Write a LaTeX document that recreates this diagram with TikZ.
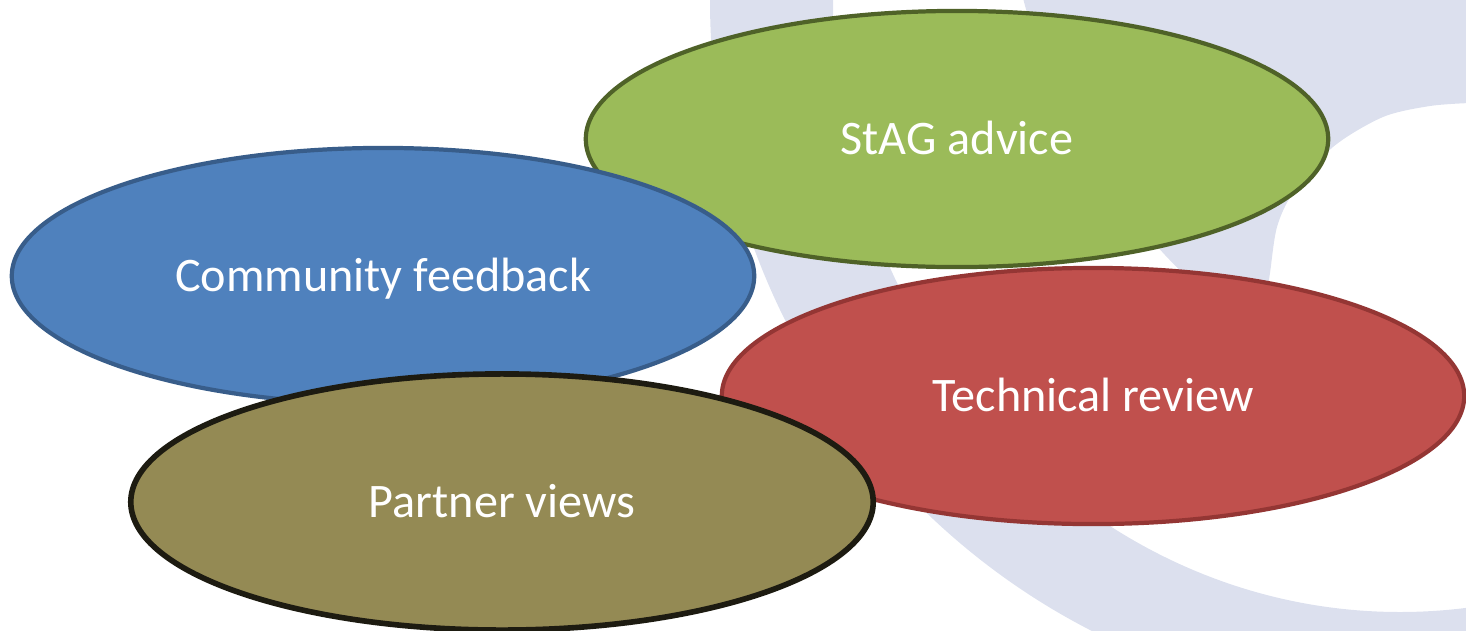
\documentclass[tikz,border=0pt]{standalone}
\usepackage{fontspec}
\setmainfont{Carlito}
\usetikzlibrary{shapes.geometric}
\definecolor{swooshgray}{RGB}{220,224,238}
\definecolor{feedblue}{RGB}{79,129,189}
\definecolor{feedblueline}{RGB}{56,93,138}
\definecolor{stagreen}{RGB}{155,187,89}
\definecolor{stagreenline}{RGB}{79,98,40}
\definecolor{techred}{RGB}{192,80,77}
\definecolor{techredline}{RGB}{148,54,52}
\definecolor{partnerolive}{RGB}{148,138,84}
\definecolor{partneroliveline}{RGB}{29,27,17}
\begin{document}
\begin{tikzpicture}[x = 0.01cm, y = -0.01cm,
		bubble/.style = {ellipse, minimum width = 7.42cm, minimum height = 2.56cm,
			inner sep = 0pt, line width = 1.2pt, text = white,
			font = \fontsize{13.7}{16}\selectfont, text height = 8.8pt, text depth = 0pt}]
	\useasboundingbox (0, 0) rectangle (1466, 630);
	% background swoosh
	\begin{scope}
		\clip (0, 0) rectangle (1466, 630);
		\fill[swooshgray, even odd rule] (1400, 0) ellipse [x radius = 690, y radius = 705]
			(1400, 0) ellipse [x radius = 567, y radius = 612];
		\fill[swooshgray] plot[smooth] coordinates {(1023, -2) (1048, 80) (1096, 170) (1165, 255) (1230, 315) (1268, 335)}
			-- plot[smooth] coordinates {(1266, 300) (1270, 273) (1277, 227) (1293, 193) (1333, 147) (1383, 117) (1430, 106) (1470, 103)}
			-- (1470, -2) -- cycle;
	\end{scope}
	% the four ellipses
	\node[bubble, draw = stagreenline, fill = stagreen]   (stag)      at (957, 139)  {StAG advice};
	\node[bubble, draw = feedblueline, fill = feedblue]   (community) at (383, 276)  {Community feedback};
	\node[bubble, draw = techredline, fill = techred]     (technical) at (1093, 396) {Technical review};
	\node[bubble, draw = partneroliveline, fill = partnerolive, line width = 1.6pt] (partner) at (502, 502) {Partner views};
\end{tikzpicture}
\end{document}
